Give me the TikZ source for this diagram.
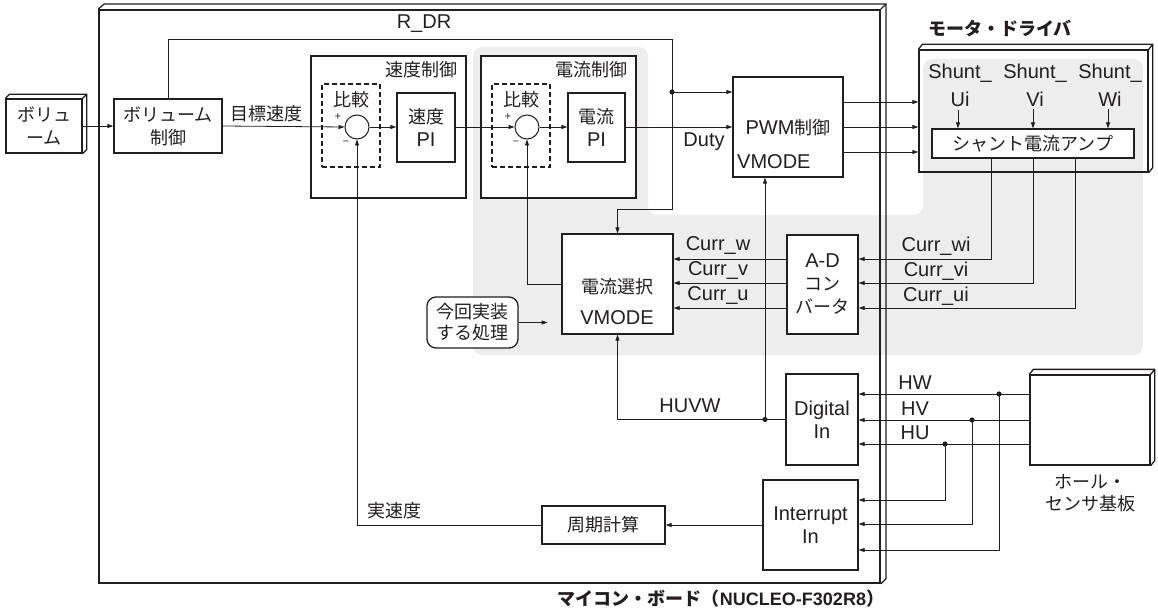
\documentclass[tikz,border=0pt]{standalone}
\usepackage{fontspec}
\setmainfont{Noto Sans CJK JP}
\newfontfamily\la{Liberation Sans}
\usetikzlibrary{arrows.meta,calc}
\definecolor{ink}{RGB}{35,30,30}
\definecolor{greyfill}{RGB}{237,237,237}
\newcommand\LA[1]{{\la\fontsize{20}{23}\selectfont #1}}
\newcommand\LB[1]{{\la\bfseries\fontsize{18}{22}\selectfont #1}}
\newcommand\threed[3]{%
  \draw[boxline] (#1.north west) -- ++(#2,-#3) -- ([shift={(#2,-#3)}]#1.north east)
     -- ([shift={(#2,-#3)}]#1.south east) -- (#1.south east);
  \draw[boxline] (#1.north east) -- ++(#2,-#3);}
\begin{document}
\begin{tikzpicture}[x=1pt,y=-1pt,
  every node/.style={font=\fontsize{18}{23}\selectfont, text=ink},
  boxline/.style={draw=ink, line width=1.3pt, line join=miter},
  box/.style={boxline, fill=white, inner sep=0pt, align=center},
  ebox/.style={boxline, inner sep=0pt, align=center},
  cmpbox/.style={draw=ink, line width=1.3pt, dash pattern=on 5pt off 3pt, inner sep=0pt},
  sum/.style={circle, draw=ink, line width=1pt, fill=white, minimum size=24pt, inner sep=0pt},
  wire/.style={draw=ink, line width=0.8pt},
  arr/.style={wire, -{Triangle[length=6pt,width=4pt]}},
  lbl/.style={inner sep=0pt, align=center},
  sg/.style={inner sep=0pt, font=\fontsize{11}{12}\selectfont}]
\useasboundingbox (0,0) rectangle (1158,612);

% shaded region
\fill[fill=greyfill, rounded corners=9pt] (473,47) -- (648,47) -- (648,215) -- (923,215) -- (923,59)
   -- (1143,59) -- (1143,355) -- (473,355) -- cycle;

% micro board
\node[draw=ink, line width=1.8pt, inner sep=0pt, minimum width=781, minimum height=573] (board) at (489.5,296.5) {};
\draw[draw=ink, line width=1.3pt] (board.north west) -- ++(6,-5) -- ([shift={(5,-5)}]board.north east)
   -- ([shift={(5,-5)}]board.south east) -- (board.south east);
\draw[draw=ink, line width=1.3pt] (board.north east) -- ++(5,-5);
\node[lbl, font=\bfseries\fontsize{18}{22}\selectfont] (boardlbl) at (721,599) {マイコン・ボード（\LB{NUCLEO-F302R8}）};

% volume
\node[box, minimum width=76, minimum height=54] (vol) at (44,126) {ボリュ\\ーム};
\threed{vol}{4}{4}
\node[box, minimum width=108, minimum height=54] (volctl) at (168,126) {ボリューム\\制御};

% speed control
\node[box, minimum width=155, minimum height=142] (spd) at (388.5,127) {};
\node[lbl] (spdlbl) at (421,70) {速度制御};
\node[cmpbox, minimum width=58, minimum height=83] (spdcmp) at (351,125.5) {};
\node[lbl] (spdcmplbl) at (351,100) {比較};
\node[sum] (spdsum) at (357,127) {};
\node[sg] (spdp) at (338,117) {+};
\node[sg] (spdm) at (346,143) {−};
\node[box, minimum width=58, minimum height=69] (spdpi) at (426,127.5) {速度\\\LA{PI}};

% current control
\node[box, minimum width=155, minimum height=142] (cur) at (558.5,127) {};
\node[lbl] (curlbl) at (591,70) {電流制御};
\node[cmpbox, minimum width=58, minimum height=83] (curcmp) at (521,125.5) {};
\node[lbl] (curcmplbl) at (521,100) {比較};
\node[sum] (cursum) at (527,127) {};
\node[sg] (curp) at (508,117) {+};
\node[sg] (curm) at (516,143) {−};
\node[box, minimum width=57, minimum height=69] (curpi) at (596.5,127.5) {電流\\\LA{PI}};

% PWM
\node[box, minimum width=110, minimum height=100] (pwm) at (788,127) {};
\node[lbl] (pwmlbl) at (788,128) {\LA{PWM}制御};
\node[lbl, anchor=west] (pwmvm) at (737,162) {\LA{VMODE}};

% motor driver
\node[ebox, minimum width=229, minimum height=122] (md) at (1033.5,111) {};
\threed{md}{4}{5}
\node[lbl, font=\bfseries\fontsize{18}{22}\selectfont] (mdlbl) at (1000,29) {モータ・ドライバ};
\node[box, minimum width=202, minimum height=29] (amp) at (1033,143.5) {シャント電流アンプ};
\node[lbl, inner sep=3pt, font=\la\fontsize{20}{28}\selectfont] (su) at (960,85) {Shunt\_\\Ui};
\node[lbl, inner sep=3pt, font=\la\fontsize{20}{28}\selectfont] (sv) at (1035,85) {Shunt\_\\Vi};
\node[lbl, inner sep=3pt, font=\la\fontsize{20}{28}\selectfont] (sw) at (1110,85) {Shunt\_\\Wi};
\draw[arr] (su.south -| 958,0) -- (amp.north -| 958,0);
\draw[arr] (sv.south -| 1033,0) -- (amp.north -| 1033,0);
\draw[arr] (sw.south -| 1108,0) -- (amp.north -| 1108,0);

% current select, ADC
\node[box, minimum width=111, minimum height=100] (sel) at (617.5,284) {};
\node[lbl] (sellbl) at (617,287) {電流選択};
\node[lbl] (selvm) at (617,318) {\LA{VMODE}};
\node[box, minimum width=71, minimum height=99] (adc) at (822.5,284.5) {\LA{A-D}\\コン\\バータ};
\node[box, rounded corners=9pt, minimum width=91, minimum height=51, font=\fontsize{18}{21}\selectfont] (impl) at (472.5,322.5) {今回実装\\する処理};

% digital / interrupt / period
\node[box, minimum width=72, minimum height=91, font=\la\fontsize{20}{23}\selectfont] (din) at (822,419.5) {Digital\\In};
\node[box, minimum width=95, minimum height=90, font=\la\fontsize{20}{23}\selectfont] (iin) at (810.5,525) {Interrupt\\In};
\node[box, minimum width=123, minimum height=38] (period) at (603.5,525) {周期計算};

% hall sensor
\node[box, minimum width=120, minimum height=90] (hall) at (1090,420) {};
\threed{hall}{4}{5}
\node[lbl, font=\fontsize{18}{22}\selectfont] (halllbl) at (1090,493) {ホール・\\センサ基板};

% ---------- connectors ----------
\draw[arr] (vol.east) -- (volctl.west);
\draw[arr] (volctl.east) -- (spdsum.west);
\node[lbl] (tgt) at (266,114) {目標速度};
\draw[arr] (spdsum.east) -- (spdpi.west |- spdsum.east);
\draw[arr] (spdpi.east |- spdsum.east) -- (cursum.west);
\draw[arr] (cursum.east) -- (curpi.west |- cursum.east);
\draw[arr] (curpi.east |- cursum.east) -- (pwm.west |- cursum.east);
\node[lbl] (duty) at (704,142) {\LA{Duty}};

% R_DR
\coordinate (rtop) at (672,39);
\coordinate (rdot) at (672,92);
\coordinate (rturn) at (672,209);
\draw[arr] (volctl.north) |- (rtop) -- (rturn) -| (sel.north);
\draw[arr] (rdot) -- (pwm.west |- rdot);
\fill[ink] (rdot) circle (2.6);
\node[lbl] (rdr) at (424,24) {\LA{R\_DR}};

% PWM outputs
\draw[arr] (pwm.east |- 0,102) -- (md.west |- 0,102);
\draw[arr] (pwm.east |- 0,127) -- (md.west |- 0,127);
\draw[arr] (pwm.east |- 0,152) -- (md.west |- 0,152);

% amp to ADC
\draw[arr] (amp.south -| 991,0) |- (adc.east |- 0,259);
\draw[arr] (amp.south -| 1033,0) |- (adc.east |- 0,283);
\draw[arr] (amp.south -| 1075,0) |- (adc.east |- 0,308);
\node[lbl] (cwi) at (936,246) {\LA{Curr\_wi}};
\node[lbl] (cvi) at (936,271) {\LA{Curr\_vi}};
\node[lbl] (cui) at (936,296) {\LA{Curr\_ui}};

% ADC to select
\draw[arr] (adc.west |- 0,259) -- (sel.east |- 0,259);
\draw[arr] (adc.west |- 0,283) -- (sel.east |- 0,283);
\draw[arr] (adc.west |- 0,308) -- (sel.east |- 0,308);
\node[lbl] (cw) at (718,246) {\LA{Curr\_w}};
\node[lbl] (cv) at (718,271) {\LA{Curr\_v}};
\node[lbl] (cu) at (718,296) {\LA{Curr\_u}};

% select to current comparator
\draw[arr] (sel.west) -| (cursum.south);
% impl arrow
\draw[arr] (impl.east) -- ++(29,0);

% HUVW
\draw[arr] (din.west) -| (sel.south);
\coordinate (hdot) at (765,419.5);
\draw[arr] (hdot) -- (hdot |- pwm.south);
\fill[ink] (hdot) circle (2.6);
\node[lbl] (huvw) at (690,406) {\LA{HUVW}};

% hall lines
\draw[arr] (hall.west |- 0,394) -- (din.east |- 0,394);
\draw[arr] (hall.west |- 0,420) -- (din.east |- 0,420);
\draw[arr] (hall.west |- 0,444) -- (din.east |- 0,444);
\node[lbl] (hw) at (915,383) {\LA{HW}};
\node[lbl] (hv) at (915,409) {\LA{HV}};
\node[lbl] (hu) at (915,433) {\LA{HU}};
\coordinate (dw) at (999,394);
\coordinate (dv) at (972,420);
\coordinate (du) at (945,444);
\draw[arr] (dw) |- (iin.east |- 0,550);
\draw[arr] (dv) |- (iin.east |- 0,524);
\draw[arr] (du) |- (iin.east |- 0,500);
\fill[ink] (dw) circle (2.6);
\fill[ink] (dv) circle (2.6);
\fill[ink] (du) circle (2.6);

% interrupt to period to speed comparator
\draw[arr] (iin.west) -- (period.east);
\draw[arr] (period.west) -| (spdsum.south);
\node[lbl] (real) at (394,511) {実速度};
\end{tikzpicture}
\end{document}
